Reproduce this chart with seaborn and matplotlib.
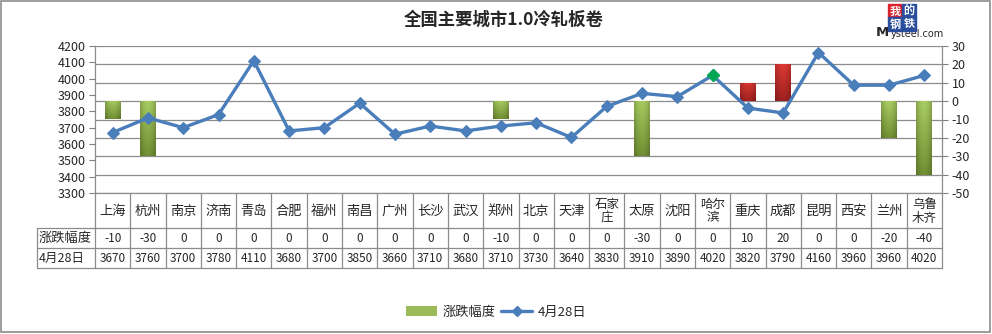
import numpy as np
import pandas as pd
import matplotlib
matplotlib.use("Agg")
import matplotlib.pyplot as plt
import seaborn as sns
from matplotlib.lines import Line2D
from matplotlib.patches import Patch, Rectangle

cities = ["上海", "杭州", "南京", "济南", "青岛", "合肥", "福州", "南昌", "广州", "长沙",
          "武汉", "郑州", "北京", "天津", "石家庄", "太原", "沈阳", "哈尔滨", "重庆", "成都",
          "昆明", "西安", "兰州", "乌鲁木齐"]
city_labels = ["上海", "杭州", "南京", "济南", "青岛", "合肥", "福州", "南昌", "广州", "长沙",
               "武汉", "郑州", "北京", "天津", "石家\n庄", "太原", "沈阳", "哈尔\n滨", "重庆", "成都",
               "昆明", "西安", "兰州", "乌鲁\n木齐"]
change = [-10, -30, 0, 0, 0, 0, 0, 0, 0, 0, 0, -10, 0, 0, 0, -30, 0, 0, 10, 20, 0, 0, -20, -40]
price = [3670, 3760, 3700, 3780, 4110, 3680, 3700, 3850, 3660, 3710, 3680, 3710, 3730, 3640,
         3830, 3910, 3890, 4020, 3820, 3790, 4160, 3960, 3960, 4020]
left_ticks = list(range(3300, 4201, 100))
right_ticks = list(range(-50, 31, 10))
title = "全国主要城市1.0冷轧板卷"
bar_name = "涨跌幅度"
line_name = "4月28日"
highlight_city = "哈尔滨"

sns.set_theme(style="white")
plt.rcParams['font.family'] = ['Noto Sans CJK SC', 'DejaVu Sans']
plt.rcParams['axes.unicode_minus'] = False

W, H = 992, 334
fig = plt.figure(figsize=(W / 100, H / 100), dpi=100)

def fx(x):
    return x / W

def fy(y):
    return 1 - y / H

L, R, T, B = 95, 942, 46, 193
ax = fig.add_axes([fx(L), fy(B), fx(R) - fx(L), fy(T) - fy(B)])
ax2 = ax.twinx()
df = pd.DataFrame({"city": cities, "change": change, "price": price})

# bars on right axis
sns.barplot(data=df, x="city", y="change", ax=ax, width=0.45, color="#9BBB59",
            saturation=1, edgecolor="none")
ax.set_xlim(-0.5, len(cities) - 0.5)
ax.set_ylim(-50, 30)
ax.set_xlabel("")
ax.set_ylabel("")
ax.set_xticks([])
ax.grid(axis="y", color="#8c8c8c", lw=0.9)
ax.set_axisbelow(True)
for s in ax.spines.values():
    s.set_color("#8c8c8c")
    s.set_linewidth(0.9)
ax.spines["top"].set_visible(False)

# gradient fills for bars
for patch, v in zip(ax.patches, change):
    if v == 0:
        patch.set_visible(False)
        continue
    bb = patch.get_bbox()
    x0, x1 = bb.x0, bb.x1
    y0, y1 = min(bb.y0, bb.y1), max(bb.y0, bb.y1)
    if v < 0:
        c_top, c_bot = np.array([0.66, 0.80, 0.38]), np.array([0.44, 0.56, 0.20])
    else:
        c_top, c_bot = np.array([0.86, 0.22, 0.20]), np.array([0.62, 0.13, 0.12])
    grad = np.linspace(0, 1, 64)[:, None, None]
    img = c_top * (1 - grad) + c_bot * grad
    horiz = 1 - 0.18 * np.abs(np.linspace(-1, 1, 16))[None, :, None] ** 2
    img = np.clip(img * horiz, 0, 1)
    im = ax.imshow(img, extent=[x0, x1, y0, y1], origin="upper", aspect="auto", zorder=2)
    patch.set_facecolor("none")
    im.set_clip_path(patch)
ax.set_xlim(-0.5, len(cities) - 0.5)
ax.set_ylim(-50, 30)
ax.set_yticks(right_ticks)

# line on left axis
sns.lineplot(data=df, x="city", y="price", ax=ax2, color="#4A7EBB", lw=2.4,
             marker="D", markersize=6.5, markeredgecolor="#4A7EBB", sort=False)
hi = cities.index(highlight_city)
ax2.plot([hi], [price[hi]], marker="D", markersize=6.5, color="#00A651", ls="none")
ax2.set_ylim(3300, 4200)
ax2.set_yticks(left_ticks)
ax2.set_xlabel("")
ax2.set_ylabel("")
ax2.set_xticks([])
ax2.grid(False)
for s in ax2.spines.values():
    s.set_visible(False)
ax2.set_xlim(-0.5, len(cities) - 0.5)

# axis sides (after twinx)
ax.yaxis.tick_right()
ax.tick_params(axis="y", left=False, labelleft=False, right=True, labelright=True,
               length=4, width=0.8, color="#808080", labelsize=9, pad=3)
ax2.yaxis.tick_left()
ax2.tick_params(axis="y", left=True, labelleft=True, right=False, labelright=False,
                length=4, width=0.8, color="#808080", labelsize=9, pad=3)

# title
fig.text(0.508, fy(20), title, ha="center", va="center", fontsize=12.5, fontweight="bold")

# logo
for (ch, x, y, c) in [("我", 895, 11, "#D9232D"), ("的", 909, 11, "#2A4E9B"),
                      ("钢", 895, 24, "#2A4E9B"), ("铁", 909, 24, "#2A4E9B")]:
    fig.patches.append(Rectangle((fx(x - 7), fy(y + 6.5)), 14 / W, 13 / H,
                                 transform=fig.transFigure, color=c, zorder=5))
    fig.text(fx(x), fy(y), ch, ha="center", va="center", fontsize=8, color="white",
             fontweight="bold", zorder=6)
fig.text(fx(876), fy(33), "M", ha="left", va="center", fontsize=9.5, fontweight="bold",
         family="DejaVu Sans")
fig.text(fx(891), fy(34), "ysteel.com", ha="left", va="center", fontsize=7,
         family="DejaVu Sans")

# data table
tcol = "#8c8c8c"
cw = (R - L) / len(cities)
r1, r2, r3, r4 = B, 228, 248, 268
TL = 37
def hline(y, x0, x1):
    fig.add_artist(Line2D([fx(x0), fx(x1)], [fy(y), fy(y)], color=tcol, lw=0.9))
def vline(x, y0, y1):
    fig.add_artist(Line2D([fx(x), fx(x)], [fy(y0), fy(y1)], color=tcol, lw=0.9))
hline(r2, TL, R)
hline(r3, TL, R)
hline(r4, TL, R)
vline(TL, r2, r4)
for i in range(len(cities) + 1):
    vline(L + i * cw, r1, r4)
for i in range(len(cities)):
    cx = L + (i + 0.5) * cw
    lab = city_labels[i]
    fs = 9.5 if "\n" not in lab else 9
    fig.text(fx(cx), fy((r1 + r2) / 2 + 1), lab, ha="center", va="center", fontsize=fs,
             linespacing=1.05)
    fig.text(fx(cx), fy((r2 + r3) / 2), str(change[i]), ha="center", va="center", fontsize=8.5)
    fig.text(fx(cx), fy((r3 + r4) / 2), str(price[i]), ha="center", va="center", fontsize=8.5)
fig.text(fx(TL + 2), fy((r2 + r3) / 2), bar_name, ha="left", va="center", fontsize=9.5)
fig.text(fx(TL + 2), fy((r3 + r4) / 2), line_name, ha="left", va="center", fontsize=9)

# legend
handles = [Patch(facecolor="#9BBB59", edgecolor="none", label=bar_name),
           Line2D([], [], color="#4A7EBB", lw=2.4, marker="D", markersize=5, label=line_name)]
fig.legend(handles=handles, loc="center", bbox_to_anchor=(0.5, fy(312)), ncol=2,
           frameon=False, fontsize=9.5, handlelength=2.4, columnspacing=0.4,
           handletextpad=0.4)

# outer border
fig.patches.append(Rectangle((fx(1), fy(332)), fx(989), 331 / H, transform=fig.transFigure,
                             fill=False, edgecolor="#8c8c8c", lw=1.2))

fig.savefig("out.png", dpi=100)
